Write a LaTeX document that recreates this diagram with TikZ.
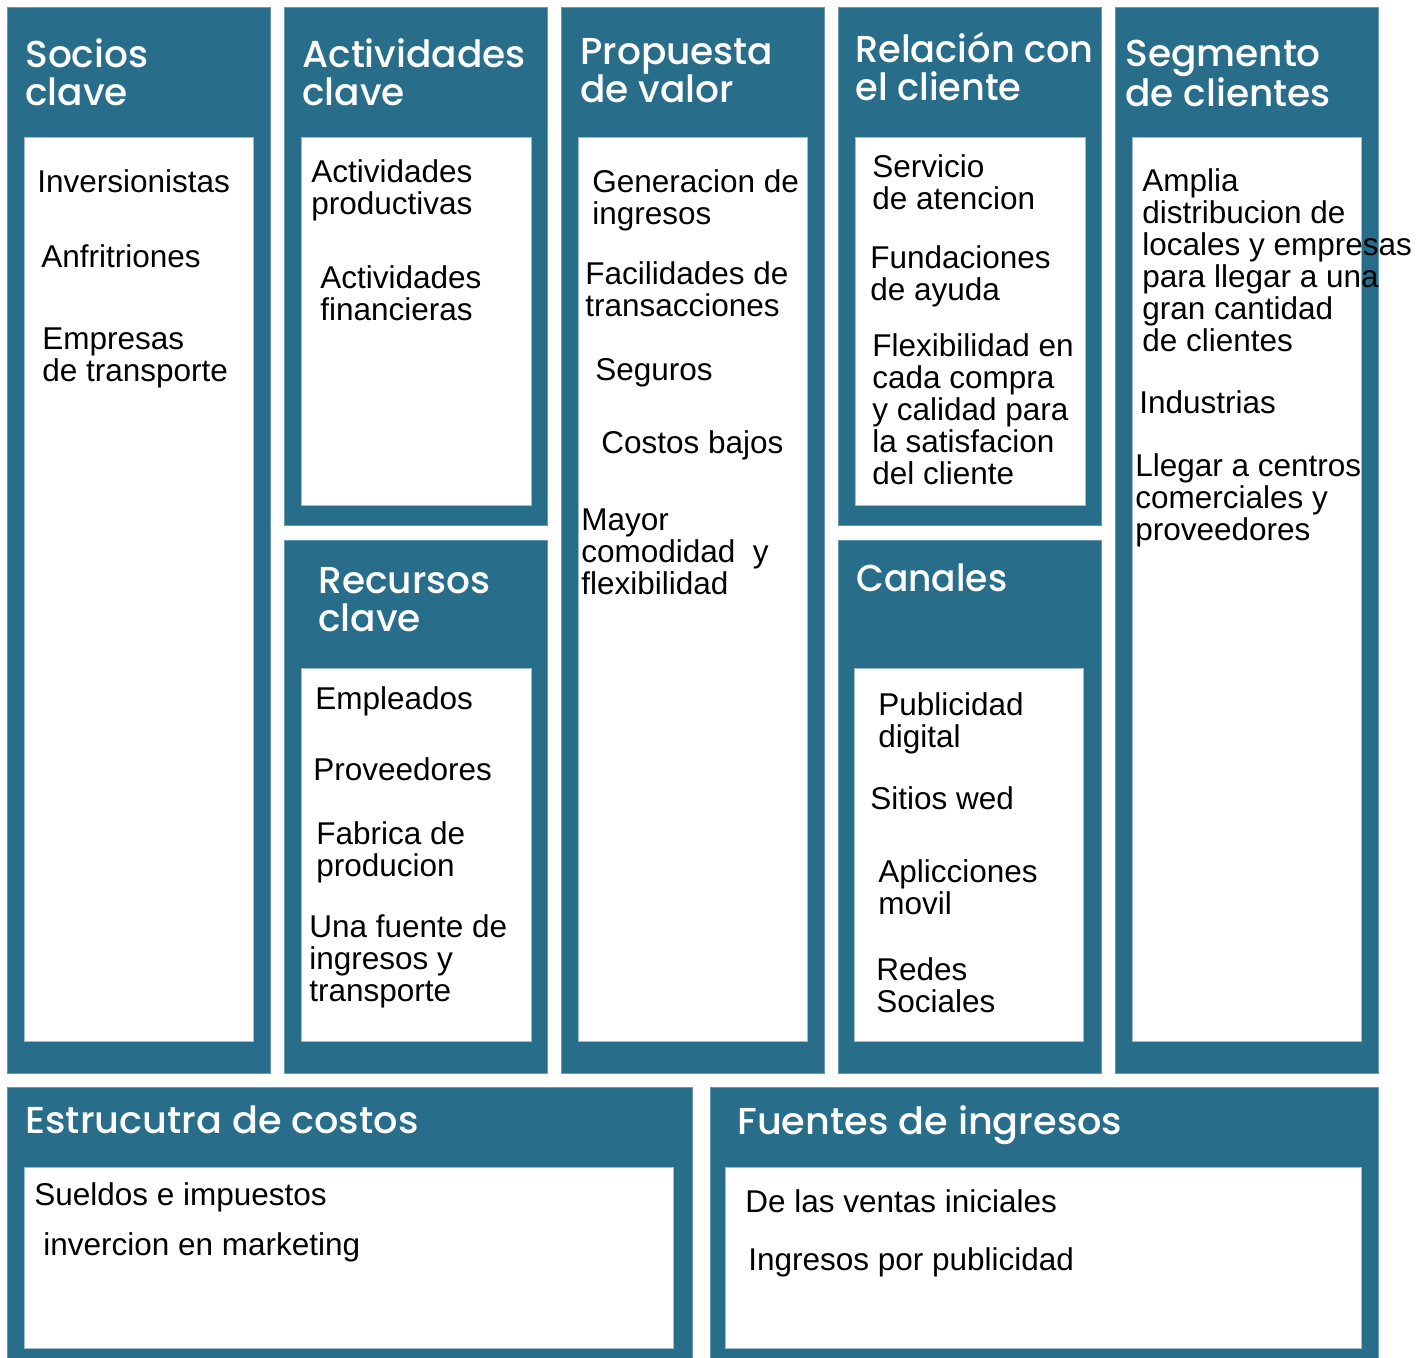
\documentclass[tikz,border=0pt]{standalone}
\usepackage{fontspec}
\setmainfont{Liberation Sans}
\newfontfamily\headfont{Poppins Medium}
\definecolor{canvasblue}{RGB}{40,110,138}

\tikzset{every picture/.style={line width=0.75pt}}
\tikzset{
  block/.style={fill=canvasblue, draw=canvasblue!70!white, line width=0.6pt},
  panel/.style={fill=white, draw=canvasblue!45!white, line width=0.6pt},
  head/.style={anchor=north west, inner sep=0pt, text=white, align=left,
    font=\headfont\fontsize{37.5}{38}\selectfont},
  item/.style={anchor=north west, inner sep=0pt, align=left,
    font=\fontsize{31.5}{32}\selectfont}
}

\begin{document}
\begin{tikzpicture}[x=1pt,y=1pt,yscale=-1,xscale=1]
\useasboundingbox (0,0) rectangle (1421,1357);

%Shape: Rectangle [socios]
\draw [block] (7,7) rectangle (270,1073) ;
\draw [panel] (24,137) rectangle (253,1041) ;
%Shape: Rectangle [actividades]
\draw [block] (284,7) rectangle (547,525) ;
\draw [panel] (301,137) rectangle (531,505) ;
%Shape: Rectangle [recursos]
\draw [block] (284,540) rectangle (547,1073) ;
\draw [panel] (301,668) rectangle (531,1041) ;
%Shape: Rectangle [propuesta]
\draw [block] (561,7) rectangle (824,1073) ;
\draw [panel] (578,137) rectangle (807,1041) ;
%Shape: Rectangle [relacion]
\draw [block] (838,7) rectangle (1101,525) ;
\draw [panel] (855,137) rectangle (1085,505) ;
%Shape: Rectangle [canales]
\draw [block] (838,540) rectangle (1101,1073) ;
\draw [panel] (854,668) rectangle (1083,1041) ;
%Shape: Rectangle [segmento]
\draw [block] (1115,7) rectangle (1378,1073) ;
\draw [panel] (1132,137) rectangle (1361,1041) ;
%Shape: Rectangle [costos]
\draw [block] (7,1087) rectangle (692,1360) ;
\draw [panel] (24,1167) rectangle (673,1348) ;
%Shape: Rectangle [ingresos]
\draw [block] (710,1087) rectangle (1378,1360) ;
\draw [panel] (725,1167) rectangle (1361,1348) ;

% Text Node
\draw (25,38) node (hsocios) [head] {Socios\\clave};
% Text Node
\draw (302,38) node (hactiv) [head] {Actividades\\clave};
% Text Node
\draw (580,38) node (hprop) [head] {Propuesta\\de valor};
% Text Node
\draw (855,32) node (hrel) [head, xscale=0.98] {Relación con\\el cliente};
% Text Node
\draw (1125,40) node (hseg) [head] {Segmento\\de clientes};
% Text Node
\draw (318,567) node (hrec) [head] {Recursos\\clave};
% Text Node
\draw (856,563) node (hcan) [head, xscale=0.96] {Canales};
% Text Node
\draw (25,1105) node (hcost) [head, xscale=1.02] {Estrucutra de costos};
% Text Node
\draw (737,1105) node (hfuen) [head, xscale=1.02] {Fuentes de ingresos};

% Text Node
\draw (37,169) node (inv) [item] {Inversionistas};
% Text Node
\draw (41,244) node (anf) [item] {Anfritriones};
% Text Node
\draw (42,327) node (emp) [item] {Empresas\\de transporte};

% Text Node
\draw (311,159) node (prod) [item] {Actividades\\productivas};
% Text Node
\draw (320,265) node (fin) [item] {Actividades\\financieras};

% Text Node
\draw (592,169) node (gen) [item] {Generacion de\\ingresos};
% Text Node
\draw (585,261) node (fac) [item] {Facilidades de\\transacciones};
% Text Node
\draw (595,358) node (seg) [item] {Seguros};
% Text Node
\draw (601,430) node (cos) [item] {Costos bajos};
% Text Node
\draw (581,508) node (may) [item] {Mayor\\comodidad\ \ y\\flexibilidad};

% Text Node
\draw (872,154) node (serv) [item] {Servicio\\de atencion};
% Text Node
\draw (870,245) node (fund) [item] {Fundaciones\\de ayuda};
% Text Node
\draw (872,333) node (flex) [item] {Flexibilidad en\\cada compra\\y calidad para\\la satisfacion\\del cliente};

% Text Node
\draw (1142,168) node (ampl) [item] {Amplia\\distribucion de\\locales y empresas\\para llegar a una\\gran cantidad\\de clientes};
% Text Node
\draw (1139,390) node (ind) [item] {Industrias};
% Text Node
\draw (1135,453) node (lleg) [item] {Llegar a centros\\comerciales y\\proveedores};

% Text Node
\draw (315,686) node (empl) [item] {Empleados};
% Text Node
\draw (313,757) node (prov) [item] {Proveedores};
% Text Node
\draw (316,821) node (fab) [item] {Fabrica de\\producion};
% Text Node
\draw (309,914) node (fue) [item] {Una fuente de\\ingresos y\\transporte};

% Text Node
\draw (878,692) node (pub) [item] {Publicidad\\digital};
% Text Node
\draw (870,786) node (sit) [item] {Sitios wed};
% Text Node
\draw (878,859) node (app) [item] {Aplicciones\\movil};
% Text Node
\draw (876,957) node (red) [item] {Redes\\Sociales};

% Text Node
\draw (34,1182) node (sue) [item] {Sueldos e impuestos};
% Text Node
\draw (43,1232) node (mkt) [item] {invercion en marketing};

% Text Node
\draw (745,1189) node (ven) [item] {De las ventas iniciales};
% Text Node
\draw (748,1247) node (ipub) [item] {Ingresos por publicidad};

\end{tikzpicture}
\end{document}
